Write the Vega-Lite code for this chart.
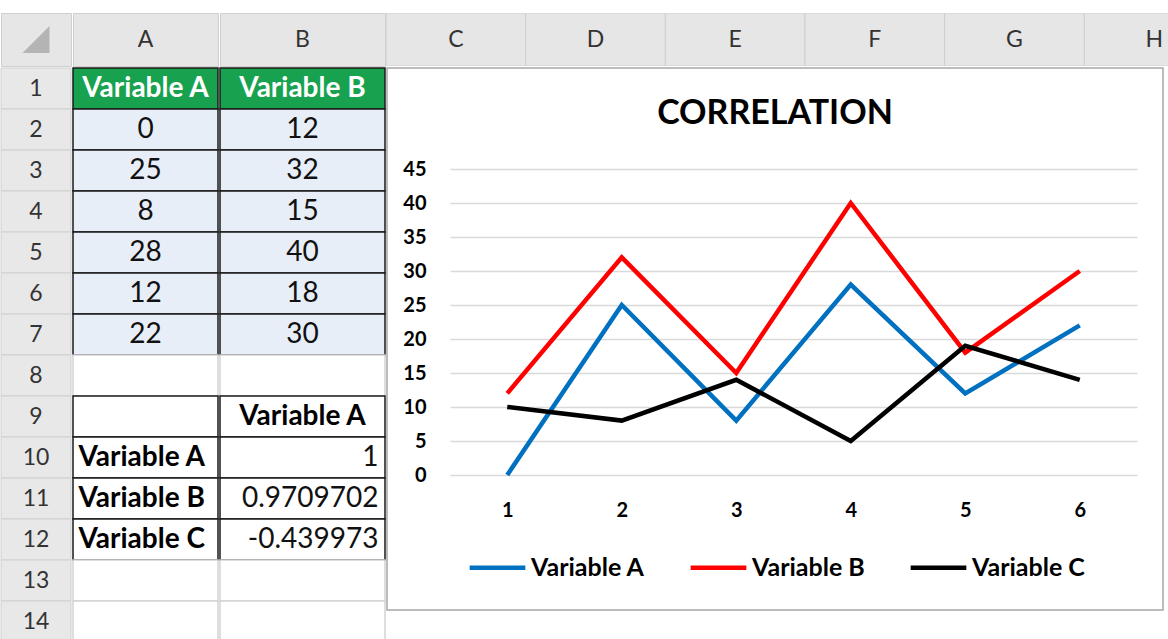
{
  "$schema": "https://vega.github.io/schema/vega-lite/v6.json",
  "padding": {"left": 0, "top": 12, "right": 0, "bottom": 0},
  "background": "white",
  "spacing": 0,
  "resolve": {"scale": {"color": "independent", "stroke": "independent", "x": "independent", "y": "independent"}, "legend": {"color": "independent", "stroke": "independent"}},
  "config": {
    "view": {"stroke": null},
    "font": "Lato",
    "concat": {"spacing": 0}
  },
  "datasets": {
    "cols": [{"col": "C"}, {"col": "D"}, {"col": "E"}, {"col": "F"}, {"col": "G"}, {"col": "H"}],
    "rownums": [{"row": 1}, {"row": 2}, {"row": 3}, {"row": 4}, {"row": 5}, {"row": 6}, {"row": 7}, {"row": 8}, {"row": 9}, {"row": 10}, {"row": 11}, {"row": 12}, {"row": 13}, {"row": 14}],
    "sheet": [
      {"col": "A", "row": 1, "text": "Variable A", "kind": "hdr"},
      {"col": "A", "row": 2, "text": "0", "kind": "data"},
      {"col": "A", "row": 3, "text": "25", "kind": "data"},
      {"col": "A", "row": 4, "text": "8", "kind": "data"},
      {"col": "A", "row": 5, "text": "28", "kind": "data"},
      {"col": "A", "row": 6, "text": "12", "kind": "data"},
      {"col": "A", "row": 7, "text": "22", "kind": "data"},
      {"col": "A", "row": 8, "text": "", "kind": "blank"},
      {"col": "A", "row": 9, "text": "", "kind": "corrEmpty"},
      {"col": "A", "row": 10, "text": "Variable A", "kind": "corrLabel"},
      {"col": "A", "row": 11, "text": "Variable B", "kind": "corrLabel"},
      {"col": "A", "row": 12, "text": "Variable C", "kind": "corrLabel"},
      {"col": "A", "row": 13, "text": "", "kind": "blank"},
      {"col": "A", "row": 14, "text": "", "kind": "blank"},
      {"col": "B", "row": 1, "text": "Variable B", "kind": "hdr"},
      {"col": "B", "row": 2, "text": "12", "kind": "data"},
      {"col": "B", "row": 3, "text": "32", "kind": "data"},
      {"col": "B", "row": 4, "text": "15", "kind": "data"},
      {"col": "B", "row": 5, "text": "40", "kind": "data"},
      {"col": "B", "row": 6, "text": "18", "kind": "data"},
      {"col": "B", "row": 7, "text": "30", "kind": "data"},
      {"col": "B", "row": 8, "text": "", "kind": "blank"},
      {"col": "B", "row": 9, "text": "Variable A", "kind": "corrHead"},
      {"col": "B", "row": 10, "text": "1", "kind": "corrVal"},
      {"col": "B", "row": 11, "text": "0.9709702", "kind": "corrVal"},
      {"col": "B", "row": 12, "text": "-0.439973", "kind": "corrVal"},
      {"col": "B", "row": 13, "text": "", "kind": "blank"},
      {"col": "B", "row": 14, "text": "", "kind": "blank"}
    ],
    "series": [
      {"obs": 1, "variable": "Variable A", "value": 0},
      {"obs": 2, "variable": "Variable A", "value": 25},
      {"obs": 3, "variable": "Variable A", "value": 8},
      {"obs": 4, "variable": "Variable A", "value": 28},
      {"obs": 5, "variable": "Variable A", "value": 12},
      {"obs": 6, "variable": "Variable A", "value": 22},
      {"obs": 1, "variable": "Variable B", "value": 12},
      {"obs": 2, "variable": "Variable B", "value": 32},
      {"obs": 3, "variable": "Variable B", "value": 15},
      {"obs": 4, "variable": "Variable B", "value": 40},
      {"obs": 5, "variable": "Variable B", "value": 18},
      {"obs": 6, "variable": "Variable B", "value": 30},
      {"obs": 1, "variable": "Variable C", "value": 10},
      {"obs": 2, "variable": "Variable C", "value": 8},
      {"obs": 3, "variable": "Variable C", "value": 14},
      {"obs": 4, "variable": "Variable C", "value": 5},
      {"obs": 5, "variable": "Variable C", "value": 19},
      {"obs": 6, "variable": "Variable C", "value": 14}
    ]
  },
  "vconcat": [
    {
      "spacing": 0,
      "resolve": {"scale": {"color": "independent", "stroke": "independent", "x": "independent", "y": "independent"}},
      "hconcat": [
        {
          "width": 70, "height": 53,
          "view": {"fill": "#e6e6e6", "stroke": "#cfcfcf"},
          "data": {"values": [{"c": "corner"}]},
          "mark": {"type": "point", "shape": "M 1 -1 L 1 1 L -1 1 Z", "size": 729, "filled": true, "fill": "#b4b4b4", "opacity": 1, "dx": 13, "dy": 6},
          "encoding": {}
        },
        {
          "width": 145, "height": 53,
          "view": {"fill": "#e6e6e6", "stroke": "#cfcfcf"},
          "data": {"values": [{"col": "A"}]},
          "mark": {"type": "text", "fontSize": 23, "color": "#333333"},
          "encoding": {"text": {"field": "col"}}
        },
        {
          "width": 165, "height": 53,
          "view": {"fill": "#e6e6e6", "stroke": "#cfcfcf"},
          "data": {"values": [{"col": "B"}]},
          "mark": {"type": "text", "fontSize": 23, "color": "#333333"},
          "encoding": {"text": {"field": "col"}}
        },
        {
          "width": 788, "height": 53,
          "data": {"name": "cols"},
          "encoding": {
            "x": {"field": "col", "type": "nominal", "axis": null, "scale": {"type": "band", "range": [0, 838], "paddingInner": 0, "paddingOuter": 0}}
          },
          "layer": [
            {"mark": {"type": "rect", "fill": "#e6e6e6", "stroke": "#cfcfcf", "clip": true}},
            {"mark": {"type": "text", "fontSize": 23, "color": "#333333"}, "encoding": {"text": {"field": "col"}}}
          ]
        }
      ]
    },
    {
      "spacing": 0,
      "resolve": {"scale": {"color": "independent", "stroke": "independent", "x": "independent", "y": "independent"}, "legend": {"color": "independent", "stroke": "independent"}},
      "hconcat": [
        {
          "width": 70, "height": 574,
          "data": {"name": "rownums"},
          "encoding": {
            "y": {"field": "row", "type": "ordinal", "axis": null, "scale": {"type": "band", "paddingInner": 0, "paddingOuter": 0}}
          },
          "layer": [
            {"mark": {"type": "rect", "fill": "#e8e8e8", "stroke": "#d0d0d0"}},
            {"mark": {"type": "text", "fontSize": 23, "color": "#333333"}, "encoding": {"text": {"field": "row"}}}
          ]
        },
        {
          "width": 145, "height": 574,
          "data": {"name": "sheet"},
          "transform": [{"filter": "datum.col == 'A'"}],
          "encoding": {
            "y": {"field": "row", "type": "ordinal", "axis": null, "scale": {"type": "band", "domain": [1,2,3,4,5,6,7,8,9,10,11,12,13,14], "paddingInner": 0, "paddingOuter": 0}}
          },
          "layer": [
            {
              "mark": {"type": "rect", "strokeWidth": 1.5},
              "encoding": {
                "color": {"field": "kind", "type": "nominal", "legend": null, "scale": {"domain": ["hdr", "data", "corrHead", "corrLabel", "corrVal", "corrEmpty", "blank"], "range": ["#18a24f", "#e8eef8", "#ffffff", "#ffffff", "#ffffff", "#ffffff", "#ffffff"]}},
                "stroke": {"field": "kind", "type": "nominal", "legend": null, "scale": {"domain": ["hdr", "data", "corrHead", "corrLabel", "corrVal", "corrEmpty", "blank"], "range": ["#1a1a1a", "#1a1a1a", "#1a1a1a", "#1a1a1a", "#1a1a1a", "#1a1a1a", "#d4d4d4"]}}
              }
            },
            {"transform": [{"filter": "datum.kind == 'hdr'"}], "mark": {"type": "text", "fontSize": 28, "fontWeight": "bold", "color": "#ffffff"}, "encoding": {"text": {"field": "text"}}},
            {"transform": [{"filter": "datum.kind == 'data'"}], "mark": {"type": "text", "fontSize": 28, "color": "#111111"}, "encoding": {"text": {"field": "text"}}},
            {"transform": [{"filter": "datum.kind == 'corrLabel'"}], "mark": {"type": "text", "fontSize": 28, "fontWeight": "bold", "color": "#000000", "align": "left", "dx": -67}, "encoding": {"text": {"field": "text"}}}
          ]
        },
        {
          "width": 165, "height": 574,
          "data": {"name": "sheet"},
          "transform": [{"filter": "datum.col == 'B'"}],
          "encoding": {
            "y": {"field": "row", "type": "ordinal", "axis": null, "scale": {"type": "band", "domain": [1,2,3,4,5,6,7,8,9,10,11,12,13,14], "paddingInner": 0, "paddingOuter": 0}}
          },
          "layer": [
            {
              "mark": {"type": "rect", "strokeWidth": 1.5},
              "encoding": {
                "color": {"field": "kind", "type": "nominal", "legend": null, "scale": {"domain": ["hdr", "data", "corrHead", "corrLabel", "corrVal", "corrEmpty", "blank"], "range": ["#18a24f", "#e8eef8", "#ffffff", "#ffffff", "#ffffff", "#ffffff", "#ffffff"]}},
                "stroke": {"field": "kind", "type": "nominal", "legend": null, "scale": {"domain": ["hdr", "data", "corrHead", "corrLabel", "corrVal", "corrEmpty", "blank"], "range": ["#1a1a1a", "#1a1a1a", "#1a1a1a", "#1a1a1a", "#1a1a1a", "#1a1a1a", "#d4d4d4"]}}
              }
            },
            {"transform": [{"filter": "datum.kind == 'hdr'"}], "mark": {"type": "text", "fontSize": 28, "fontWeight": "bold", "color": "#ffffff"}, "encoding": {"text": {"field": "text"}}},
            {"transform": [{"filter": "datum.kind == 'data'"}], "mark": {"type": "text", "fontSize": 28, "color": "#111111"}, "encoding": {"text": {"field": "text"}}},
            {"transform": [{"filter": "datum.kind == 'corrHead'"}], "mark": {"type": "text", "fontSize": 28, "fontWeight": "bold", "color": "#000000"}, "encoding": {"text": {"field": "text"}}},
            {"transform": [{"filter": "datum.kind == 'corrVal'"}], "mark": {"type": "text", "fontSize": 28, "color": "#111111", "align": "right", "dx": 76}, "encoding": {"text": {"field": "text"}}}
          ]
        },
        {
          "width": 776, "height": 542,
          "view": {"fill": "#ffffff", "stroke": "#a6a6a6", "strokeWidth": 1.5},
          "title": {"text": "CORRELATION", "fontSize": 34, "fontWeight": "bold", "color": "#000000", "anchor": "middle", "frame": "group", "offset": -63},
          "data": {"name": "series"},
          "mark": {"type": "line", "strokeWidth": 4.5},
          "encoding": {
            "x": {
              "field": "obs", "type": "ordinal",
              "scale": {"type": "point", "range": [63, 750], "padding": 0.5},
              "axis": {"title": null, "orient": "bottom", "labelAngle": 0, "offset": -111, "domain": false, "ticks": false, "tickSize": 0, "labelPadding": 1, "labelFontSize": 20, "labelFontWeight": "bold", "labelColor": "#000000", "grid": false}
            },
            "y": {
              "field": "value", "type": "quantitative",
              "scale": {"domain": [0, 45], "range": [407, 101], "nice": false},
              "axis": {"title": null, "values": [0, 5, 10, 15, 20, 25, 30, 35, 40, 45], "offset": -43, "domain": false, "ticks": false, "tickSize": 0, "labelPadding": 4, "labelFontSize": 20, "labelFontWeight": "bold", "labelColor": "#000000", "grid": true, "gridColor": "#d9d9d9", "gridWidth": 1.5}
            },
            "color": {
              "field": "variable", "type": "nominal",
              "scale": {"domain": ["Variable A", "Variable B", "Variable C"], "range": ["#0070c0", "#ff0000", "#000000"]},
              "legend": {"orient": "none", "legendX": 80, "legendY": 469, "direction": "horizontal", "title": null, "symbolType": "stroke", "symbolSize": 3100, "symbolStrokeWidth": 4.5, "labelFontSize": 25, "labelFontWeight": "bold", "labelColor": "#000000", "labelOffset": 3, "columnPadding": 36}
            }
          }
        }
      ]
    }
  ]
}
